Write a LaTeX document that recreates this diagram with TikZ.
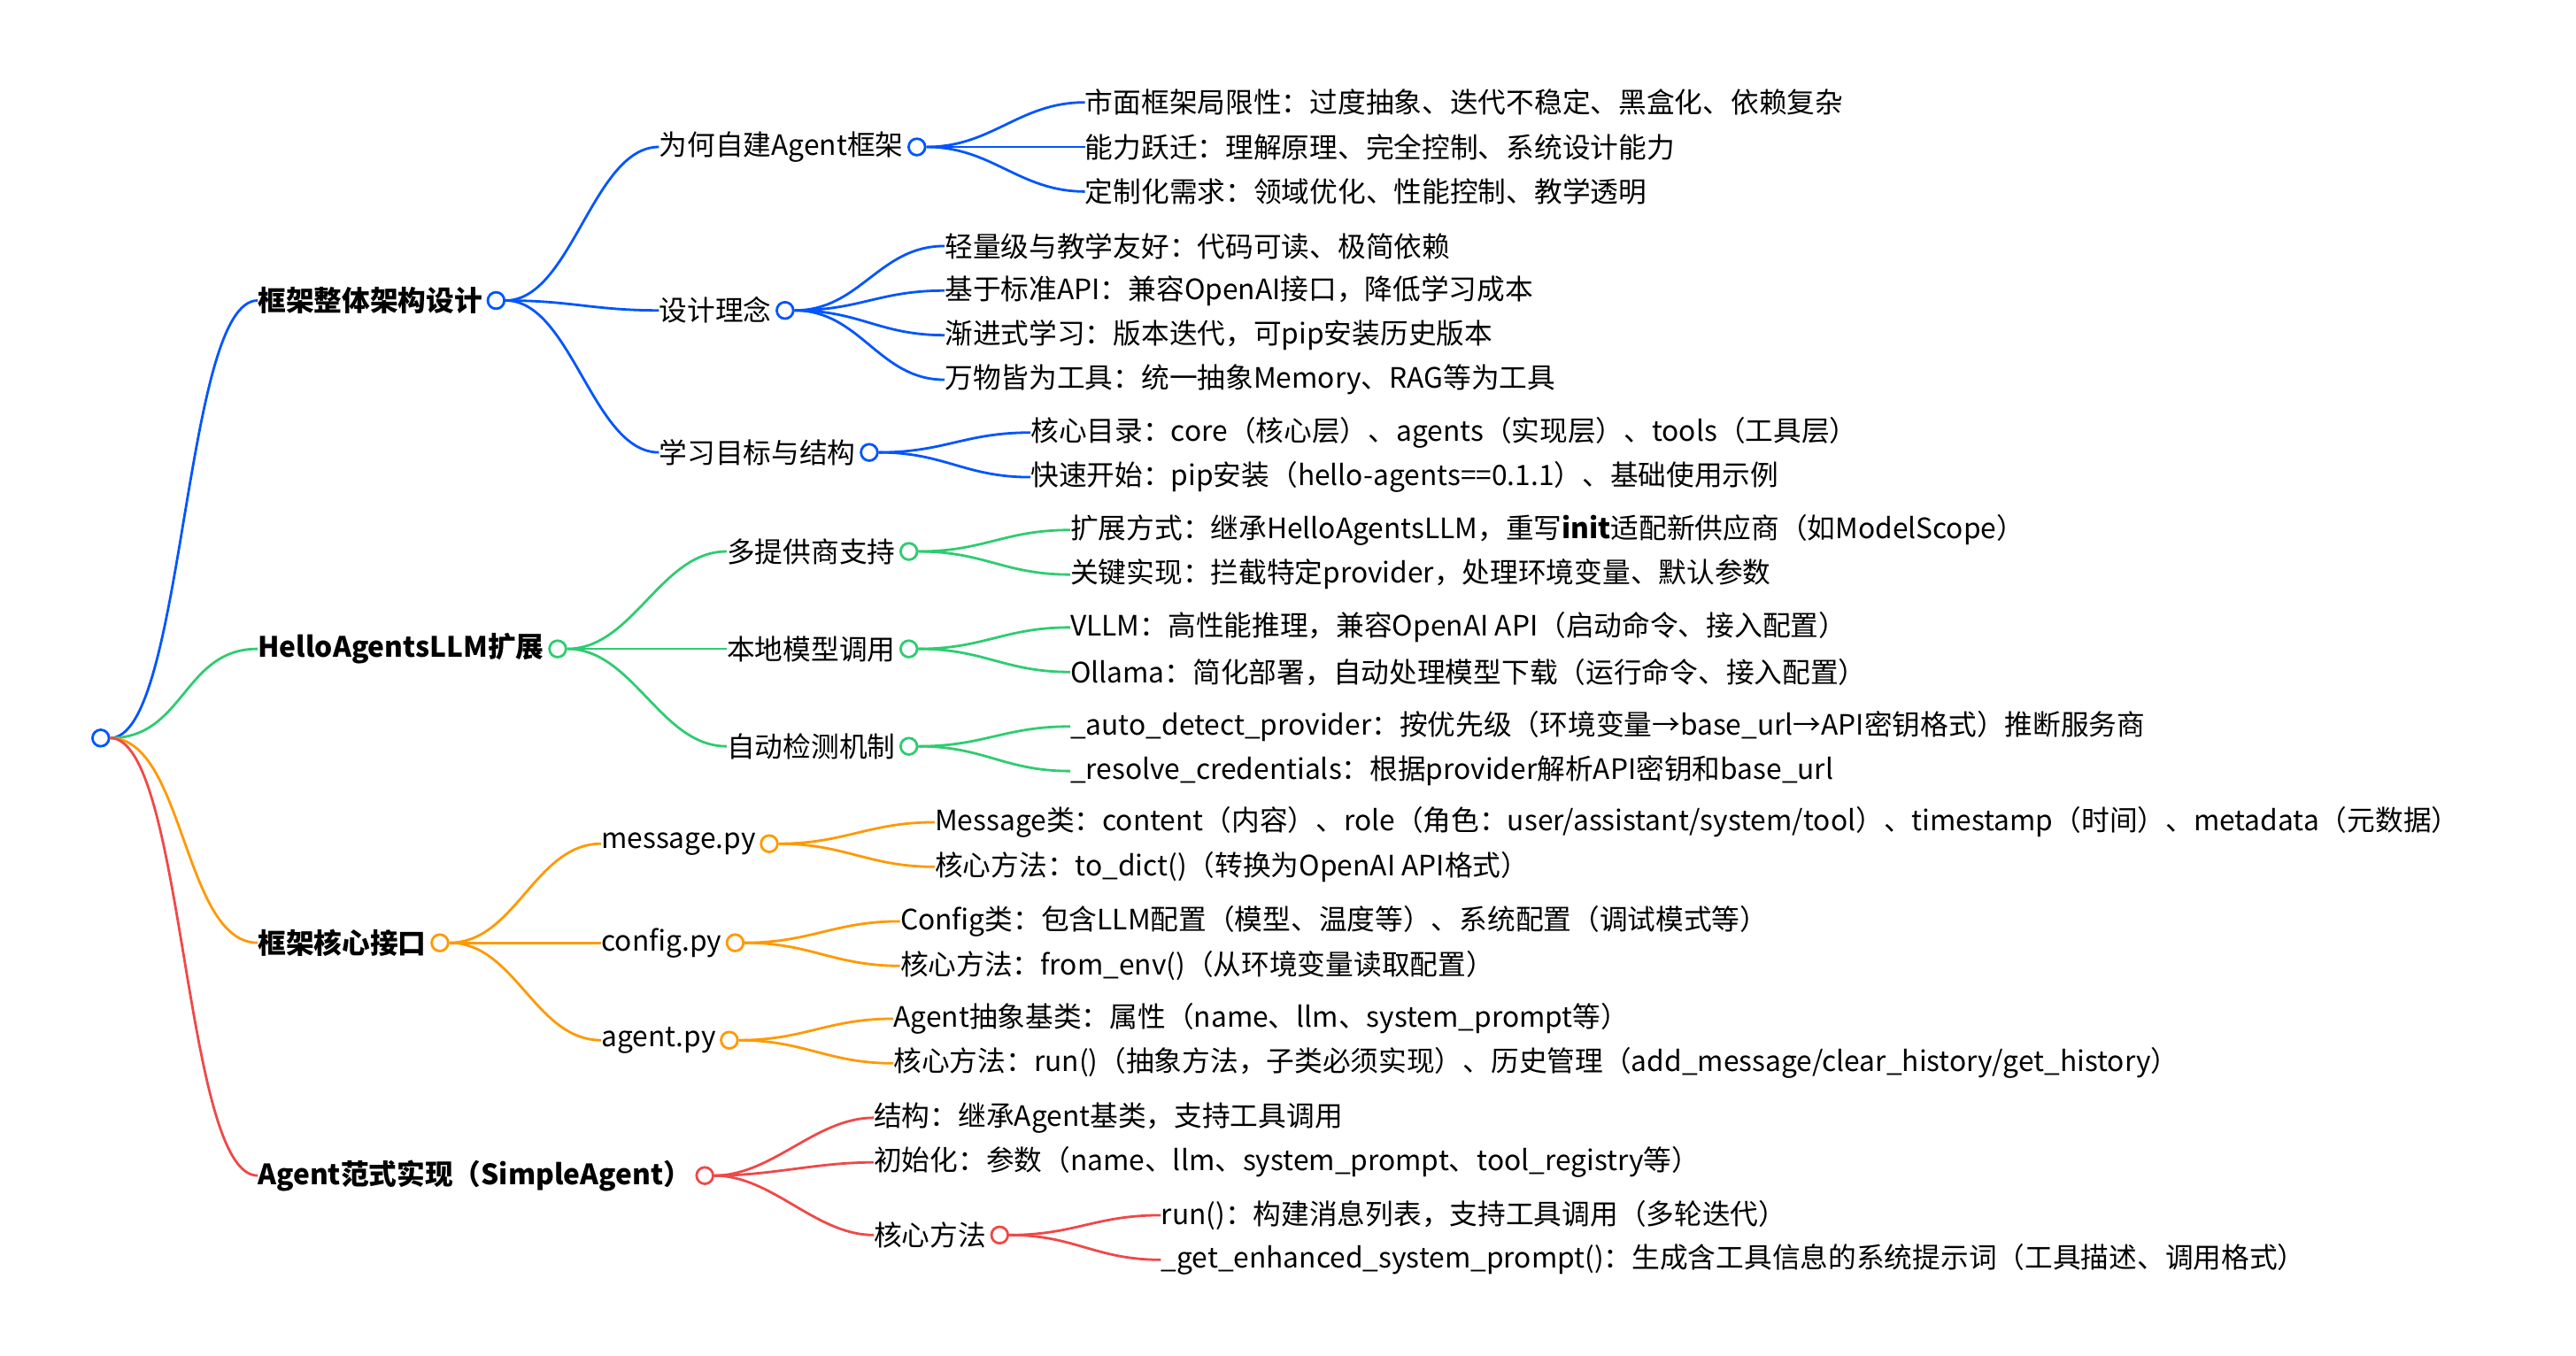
\documentclass[tikz,border=0pt]{standalone}
\usepackage{fontspec}
\setmainfont{Noto Sans CJK SC}
\definecolor{cb}{RGB}{0,85,255}
\definecolor{cg}{RGB}{46,204,113}
\definecolor{co}{RGB}{255,153,0}
\definecolor{cr}{RGB}{240,72,72}
\tikzset{
 txt/.style={anchor=west,inner sep=0pt,font=\fontsize{17}{20}\selectfont},
 btxt/.style={txt,font=\fontsize{17}{20}\selectfont\bfseries},
 dot/.style={circle,draw=#1,fill=white,line width=1.5pt,inner sep=0pt,minimum size=10pt},
 ed/.style={draw=#1,line width=1.5pt},
}
\newcommand\mmedge[4]{\draw[ed=#1] (#2.east) .. controls +(#4,0) and +(-#4,0) .. (#3.west);}
\begin{document}
\begin{tikzpicture}[x=1pt,y=-1pt]
\useasboundingbox (0,0) rectangle (1560,821);
\node[dot=cb] (root) at (61,447) {};
% level 1
\node[btxt] (a) at (156,182) {框架整体架构设计};
\node[dot=cb] (ac) at ([xshift=8]a.east) {};
\node[btxt] (b) at (156,393) {HelloAgentsLLM扩展};
\node[dot=cg] (bc) at ([xshift=8]b.east) {};
\node[btxt] (c) at (156,571) {框架核心接口};
\node[dot=co] (cc) at ([xshift=8]c.east) {};
\node[btxt] (d) at (156,712) {Agent范式实现（SimpleAgent）};
\node[dot=cr] (dc) at ([xshift=8]d.east) {};
\mmedge{cb}{root}{a}{45}
\mmedge{cg}{root}{b}{45}
\mmedge{co}{root}{c}{45}
\mmedge{cr}{root}{d}{45}
% blue level 2
\node[txt] (a1) at (399,89) {为何自建Agent框架};
\node[dot=cb] (a1c) at ([xshift=8]a1.east) {};
\node[txt] (a2) at (399,188) {设计理念};
\node[dot=cb] (a2c) at ([xshift=8]a2.east) {};
\node[txt] (a3) at (399,274) {学习目标与结构};
\node[dot=cb] (a3c) at ([xshift=8]a3.east) {};
\foreach \n in {a1,a2,a3}{\mmedge{cb}{ac}{\n}{40}}
\node[txt] (a11) at (657,62) {市面框架局限性：过度抽象、迭代不稳定、黑盒化、依赖复杂};
\node[txt] (a12) at (657,89) {能力跃迁：理解原理、完全控制、系统设计能力};
\node[txt] (a13) at (657,116) {定制化需求：领域优化、性能控制、教学透明};
\foreach \n in {a11,a12,a13}{\mmedge{cb}{a1c}{\n}{40}}
\node[txt] (a21) at (572,149) {轻量级与教学友好：代码可读、极简依赖};
\node[txt] (a22) at (572,176) {基于标准API：兼容OpenAI接口，降低学习成本};
\node[txt] (a23) at (572,203) {渐进式学习：版本迭代，可pip安装历史版本};
\node[txt] (a24) at (572,230) {万物皆为工具：统一抽象Memory、RAG等为工具};
\foreach \n in {a21,a22,a23,a24}{\mmedge{cb}{a2c}{\n}{40}}
\node[txt] (a31) at (624,262) {核心目录：core（核心层）、agents（实现层）、tools（工具层）};
\node[txt] (a32) at (624,289) {快速开始：pip安装（hello-agents==0.1.1）、基础使用示例};
\foreach \n in {a31,a32}{\mmedge{cb}{a3c}{\n}{40}}
% green
\node[txt] (b1) at (440,334) {多提供商支持};
\node[dot=cg] (b1c) at ([xshift=8]b1.east) {};
\node[txt] (b2) at (440,393) {本地模型调用};
\node[dot=cg] (b2c) at ([xshift=8]b2.east) {};
\node[txt] (b3) at (440,452) {自动检测机制};
\node[dot=cg] (b3c) at ([xshift=8]b3.east) {};
\foreach \n in {b1,b2,b3}{\mmedge{cg}{bc}{\n}{40}}
\node[txt] (b11) at (648,321) {扩展方式：继承HelloAgentsLLM，重写\textbf{init}适配新供应商（如ModelScope）};
\node[txt] (b12) at (648,348) {关键实现：拦截特定provider，处理环境变量、默认参数};
\node[txt] (b21) at (648,380) {VLLM：高性能推理，兼容OpenAI API（启动命令、接入配置）};
\node[txt] (b22) at (648,407) {Ollama：简化部署，自动处理模型下载（运行命令、接入配置）};
\node[txt] (b31) at (648,440) {\_auto\_detect\_provider：按优先级（环境变量→base\_url→API密钥格式）推断服务商};
\node[txt] (b32) at (648,467) {\_resolve\_credentials：根据provider解析API密钥和base\_url};
\mmedge{cg}{b1c}{b11}{40}\mmedge{cg}{b1c}{b12}{40}
\mmedge{cg}{b2c}{b21}{40}\mmedge{cg}{b2c}{b22}{40}
\mmedge{cg}{b3c}{b31}{40}\mmedge{cg}{b3c}{b32}{40}
% orange
\node[txt] (c1) at (364,511) {message.py};
\node[dot=co] (c1c) at ([xshift=8]c1.east) {};
\node[txt] (c2) at (364,571) {config.py};
\node[dot=co] (c2c) at ([xshift=8]c2.east) {};
\node[txt] (c3) at (364,630) {agent.py};
\node[dot=co] (c3c) at ([xshift=8]c3.east) {};
\foreach \n in {c1,c2,c3}{\mmedge{co}{cc}{\n}{40}}
\node[txt] (c11) at (566,498) {Message类：content（内容）、role（角色：user/assistant/system/tool）、timestamp（时间）、metadata（元数据）};
\node[txt] (c12) at (566,525) {核心方法：to\_dict()（转换为OpenAI API格式）};
\node[txt] (c21) at (545,558) {Config类：包含LLM配置（模型、温度等）、系统配置（调试模式等）};
\node[txt] (c22) at (545,585) {核心方法：from\_env()（从环境变量读取配置）};
\node[txt] (c31) at (541,617) {Agent抽象基类：属性（name、llm、system\_prompt等）};
\node[txt] (c32) at (541,644) {核心方法：run()（抽象方法，子类必须实现）、历史管理（add\_message/clear\_history/get\_history）};
\mmedge{co}{c1c}{c11}{40}\mmedge{co}{c1c}{c12}{40}
\mmedge{co}{c2c}{c21}{40}\mmedge{co}{c2c}{c22}{40}
\mmedge{co}{c3c}{c31}{40}\mmedge{co}{c3c}{c32}{40}
% red
\node[txt] (d1) at (529,677) {结构：继承Agent基类，支持工具调用};
\node[txt] (d2) at (529,704) {初始化：参数（name、llm、system\_prompt、tool\_registry等）};
\node[txt] (d3) at (529,748) {核心方法};
\node[dot=cr] (d3c) at ([xshift=8]d3.east) {};
\foreach \n in {d1,d2,d3}{\mmedge{cr}{dc}{\n}{35}}
\node[txt] (d31) at (703,736) {run()：构建消息列表，支持工具调用（多轮迭代）};
\node[txt] (d32) at (703,763) {\_get\_enhanced\_system\_prompt()：生成含工具信息的系统提示词（工具描述、调用格式）};
\mmedge{cr}{d3c}{d31}{40}\mmedge{cr}{d3c}{d32}{40}
\end{tikzpicture}
\end{document}
